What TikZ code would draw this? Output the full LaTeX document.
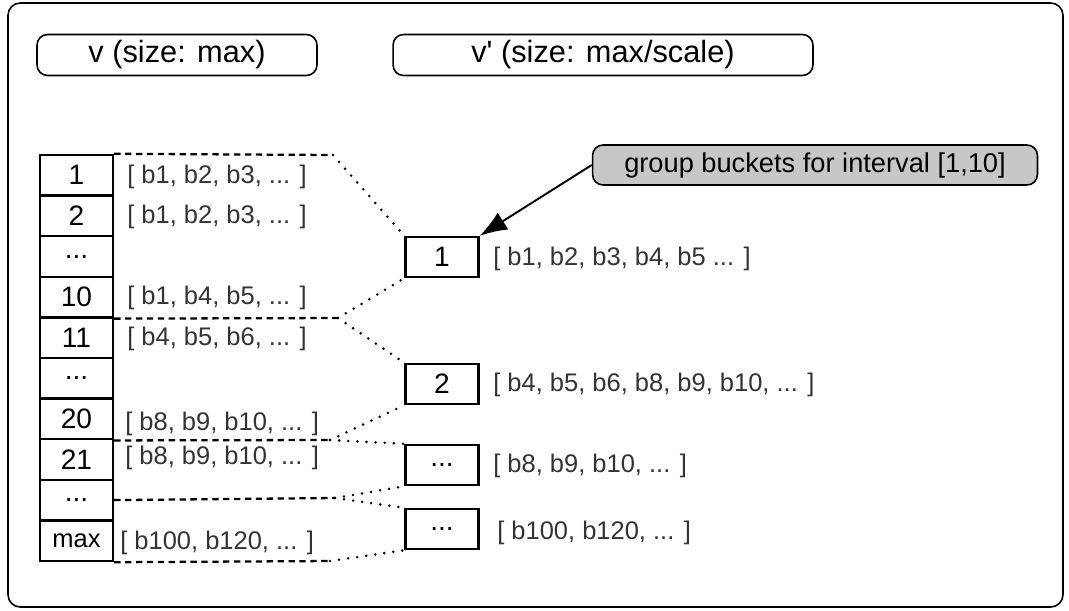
\documentclass[tikz,border=0pt]{standalone}
\usepackage{fontspec}
\setmainfont{Liberation Sans}
\usetikzlibrary{arrows.meta}

\begin{document}
\begin{tikzpicture}[x=0.02cm, y=-0.02cm,
    cell/.style = {draw, line width=1.4pt, minimum width=1.46cm, minimum height=0.812cm, inner sep=0pt, font=\fontsize{16}{18}\selectfont},
    bucket/.style = {draw, line width=1.4pt, minimum width=1.46cm, minimum height=0.8cm, inner sep=0pt, font=\fontsize{16}{18}\selectfont},
    title/.style = {draw, rounded corners=6pt, line width=0.9pt, minimum height=0.82cm, inner sep=0pt, font=\fontsize{17.5}{20}\selectfont},
    lbl/.style = {anchor=west, inner sep=0pt, text=black!80, font=\fontsize{14.5}{17}\selectfont},
    link/.style = {line width=1.3pt, dash pattern=on 3.6pt off 2.6pt},
    dots/.style = {line width=1.6pt, line cap=round, dash pattern=on 0pt off 5.2pt}]

        \useasboundingbox (0,0) rectangle (1069,610);
        \draw[rounded corners=7pt, line width=0.9pt] (8,3) rectangle (1063,607);

        % headers
        \node[title, minimum width=5.6cm] (hv) at (177,55) {v (size: max)};
        \node[title, minimum width=8.4cm] (hw) at (603,55) {v\textquotesingle{} (size: max/scale)};

        % array v
        \node[cell] (c1) at (76.5,175.3) {1};
        \node[cell] (c2) at (76.5,215.9) {2};
        \node[cell] (c3) at (76.5,256.5) {...};
        \node[cell] (c4) at (76.5,297.1) {10};
        \node[cell] (c5) at (76.5,337.7) {11};
        \node[cell] (c6) at (76.5,378.3) {...};
        \node[cell] (c7) at (76.5,418.9) {20};
        \node[cell] (c8) at (76.5,459.5) {21};
        \node[cell] (c9) at (76.5,500.1) {...};
        \node[cell, font=\fontsize{14.5}{17}\selectfont] (c10) at (76.5,540.7) {max};

        \node[lbl] (l1) at (127,177) {[ b1, b2, b3, ... ]};
        \node[lbl] (l2) at (127,217) {[ b1, b2, b3, ... ]};
        \node[lbl] (l4) at (127,298) {[ b1, b4, b5, ... ]};
        \node[lbl] (l5) at (127,339) {[ b4, b5, b6, ... ]};
        \node[lbl] (l7) at (125,424) {[ b8, b9, b10, ... ]};
        \node[lbl] (l8) at (125,458) {[ b8, b9, b10, ... ]};
        \node[lbl] (l10) at (120,543) {[ b100, b120, ... ]};

        % array v'
        \node[bucket] (b1) at (442,257) {1};
        \node[bucket] (b2) at (442,384) {2};
        \node[bucket] (b3) at (442,465) {...};
        \node[bucket] (b4) at (442,529) {...};

        \node[lbl] (r1) at (493,259) {[ b1, b2, b3, b4, b5 ... ]};
        \node[lbl] (r2) at (493,385) {[ b4, b5, b6, b8, b9, b10, ... ]};
        \node[lbl] (r3) at (493,466) {[ b8, b9, b10, ... ]};
        \node[lbl] (r4) at (497,533) {[ b100, b120, ... ]};

        \coordinate (j1) at (333,155);
        \coordinate (j2) at (338,318);
        \coordinate (j3) at (330,440);
        \coordinate (j4) at (335,498);
        \coordinate (j5) at (330,561);

        \draw[link] (c1.north east) -- (j1);
        \draw[link] (c4.south east) -- (j2);
        \draw[link] (c7.south east) -- (j3);
        \draw[link] (c9.east) -- (j4);
        \draw[link] (c10.south east) -- (j5);

        \draw[dots] (j1) -- (b1.north west);
        \draw[dots] (j2) -- (b1.south west);
        \draw[dots] (j2) -- (b2.north west);
        \draw[dots] (j3) -- (b2.south west);
        \draw[dots] (j3) -- (b3.north west);
        \draw[dots] (j4) -- (b3.south west);
        \draw[dots] (j4) -- (b4.north west);
        \draw[dots] (j5) -- (b4.south west);

        % callout
        \node[title, fill=black!22, minimum width=8.9cm, minimum height=0.8cm, font=\fontsize{15.5}{18}\selectfont] (note) at (815,165) {group buckets for interval [1,10]};
        \draw[line width=1.1pt, -{Latex[length=5.5mm,width=4mm]}] (note.west) -- (b1.north east);

    \end{tikzpicture}
\end{document}
